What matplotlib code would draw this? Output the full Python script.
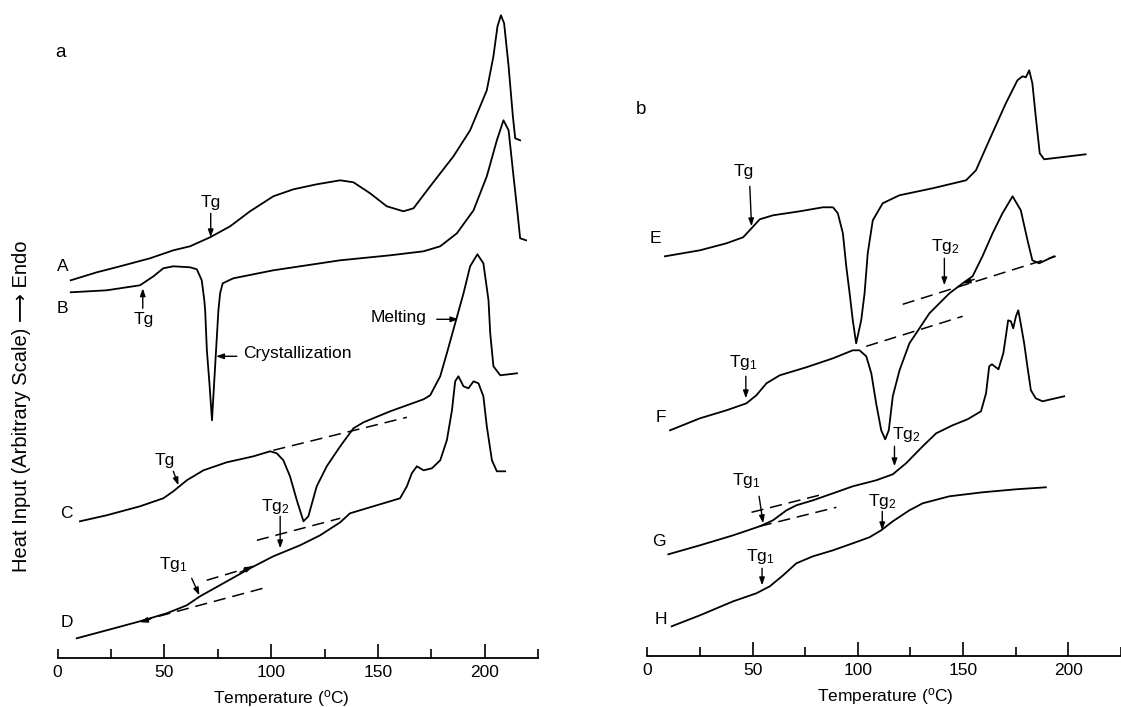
import matplotlib
matplotlib.use("Agg")
import matplotlib.pyplot as plt
import numpy as np

plt.rcParams['font.family'] = ['Liberation Sans', 'DejaVu Sans']
plt.rcParams['mathtext.fontset'] = 'custom'
plt.rcParams['mathtext.rm'] = 'Liberation Sans'
plt.rcParams['mathtext.it'] = 'Liberation Sans'

# ---- panel a: DSC traces (temperature in C, heat input in arbitrary units)
a_T = [6.2, 18.4, 29.3, 43.3, 54.2, 62.0, 71.4, 80.8, 90.1, 101.0, 110.4, 121.3, 132.3, 138.5,
       146.3, 154.1, 161.9, 166.6, 174.4, 185.3, 193.1, 200.9, 204.0, 205.9, 207.5, 209.0,
       211.1, 213.1, 214.2, 216.5]
a_H = [37.8, 38.6, 39.2, 40.0, 40.8, 41.2, 42.1, 43.2, 44.7, 46.2, 46.9, 47.4, 47.8, 47.6,
       46.5, 45.2, 44.7, 45.0, 47.2, 50.2, 52.8, 56.8, 60.2, 63.2, 64.3, 63.5,
       59.2, 54.2, 52.0, 51.8]

b_T = [6.2, 23.0, 38.6, 44.9, 49.5, 54.2, 62.0, 65.2, 67.5, 68.7, 69.1, 69.9, 71.1, 72.3,
       73.3, 74.2, 75.3, 76.1, 77.3, 82.3, 101.0, 132.3, 155.7, 171.3, 179.1, 186.9, 194.7,
       200.9, 205.6, 208.7, 211.1, 213.4, 215.3, 216.5, 219.3]
b_H = [36.6, 36.8, 37.3, 38.2, 39.0, 39.2, 39.1, 38.9, 37.8, 35.8, 34.8, 30.8, 27.5, 23.8,
       27.5, 30.8, 34.8, 36.5, 37.5, 38.0, 38.8, 39.8, 40.3, 40.7, 41.2, 42.5, 44.8,
       48.2, 51.8, 53.8, 52.8, 48.2, 44.5, 42.0, 41.8]

c_T = [10.5, 23.0, 38.6, 49.5, 54.2, 60.5, 68.3, 79.2, 91.7, 99.5, 102.6, 105.7, 108.8, 112.0,
       115.1, 117.4, 121.3, 126.0, 132.3, 138.5, 143.2, 155.7, 171.3, 174.4, 179.1, 182.2,
       186.1, 190.0, 193.1, 196.5, 199.3, 201.7, 202.5, 204.0, 207.2, 215.0]
c_H = [13.7, 14.3, 15.2, 16.0, 16.7, 17.8, 18.8, 19.6, 20.2, 20.7, 20.5, 19.8, 18.2, 15.8,
       13.7, 14.2, 17.2, 19.2, 21.2, 23.0, 23.6, 24.7, 25.9, 26.3, 28.2, 30.5,
       33.5, 36.5, 39.2, 40.4, 39.5, 35.8, 32.5, 29.2, 28.3, 28.5]

d_T = [9.0, 23.0, 38.6, 51.1, 60.5, 66.7, 77.6, 90.1, 101.0, 113.5, 122.9, 132.3, 136.9, 147.8,
       160.3, 163.5, 165.8, 168.2, 171.3, 175.2, 179.1, 182.2, 184.6, 186.1, 187.6, 190.0,
       192.3, 194.7, 197.0, 199.3, 200.9, 203.3, 205.6, 209.5]
d_H = [2.0, 2.8, 3.7, 4.5, 5.3, 6.2, 7.5, 9.0, 10.2, 11.3, 12.3, 13.6, 14.5, 15.2,
       16.0, 17.2, 18.5, 19.2, 18.8, 19.0, 19.8, 21.8, 24.8, 27.7, 28.2, 27.2,
       27.0, 27.7, 27.5, 26.2, 23.2, 19.8, 18.7, 18.7]

# ---- panel b
e_T = [8.4, 25.0, 37.6, 45.5, 49.5, 53.4, 59.7, 72.4, 83.4, 88.2, 90.5, 92.9, 94.5, 96.1, 97.6,
       99.2, 101.6, 103.2, 104.7, 107.1, 111.8, 119.7, 135.5, 151.4, 156.1, 162.4, 170.3,
       175.8, 178.2, 179.8, 181.4, 182.9, 184.5, 186.4, 188.5, 208.2]
e_H = [40.0, 40.6, 41.3, 41.9, 42.8, 43.7, 44.1, 44.5, 44.9, 44.9, 44.3, 42.3, 39.0, 36.3, 33.6,
       31.3, 33.6, 36.3, 40.3, 43.6, 45.3, 46.1, 46.8, 47.6, 48.6, 51.6, 55.3,
       57.6, 58.0, 57.9, 58.6, 57.3, 54.0, 50.3, 49.7, 50.2]

f_T = [10.8, 25.0, 37.6, 47.1, 51.8, 56.6, 62.9, 75.5, 88.2, 97.6, 100.8, 104.0, 106.4, 108.7,
       111.1, 113.0, 114.7, 116.6, 119.8, 124.5, 127.7, 134.0, 143.5, 149.8, 154.5, 159.2,
       164.0, 168.7, 173.5, 177.4, 180.6, 182.9, 186.1, 193.2]
f_H = [22.6, 23.8, 24.6, 25.3, 26.1, 27.3, 28.1, 28.9, 29.8, 30.6, 30.6, 30.0, 28.3, 25.3,
       22.6, 21.7, 22.6, 26.0, 28.6, 31.3, 32.3, 34.3, 36.3, 37.3, 38.0, 40.0,
       42.3, 44.3, 46.0, 44.6, 41.6, 39.6, 39.3, 40.0]

g_T = [10.0, 25.0, 40.8, 53.4, 59.7, 66.1, 70.8, 78.7, 88.2, 97.6, 108.7, 116.6, 122.9, 130.8,
       137.2, 145.0, 152.1, 158.5, 160.9, 162.4, 163.7, 166.8, 169.1, 170.3, 171.4, 172.7,
       173.8, 175.1, 176.2, 177.1, 179.0, 180.6, 182.2, 184.5, 187.7, 198.0]
g_H = [10.2, 11.1, 12.1, 13.0, 13.6, 14.6, 15.1, 15.6, 16.3, 17.0, 17.6, 18.2, 19.3, 21.0,
       22.3, 23.1, 23.7, 24.5, 26.3, 29.0, 29.2, 28.7, 30.3, 32.0, 33.6, 33.5,
       32.8, 34.0, 34.6, 33.6, 31.3, 28.9, 26.6, 25.8, 25.5, 26.0]

h_T = [11.6, 25.0, 40.8, 51.8, 58.2, 64.5, 70.8, 78.7, 88.2, 97.6, 105.5, 111.1, 116.6, 124.5,
       130.8, 143.5, 159.2, 175.1, 189.3]
h_H = [3.0, 4.1, 5.5, 6.3, 7.0, 8.1, 9.3, 10.0, 10.6, 11.3, 11.9, 12.6, 13.5, 14.6,
       15.3, 16.0, 16.4, 16.7, 16.9]

# baseline construction lines (T pairs, H pairs)
a_dashes = [([101.0, 163.5], [20.8, 24.1]),
            ([38.6, 97.9], [3.7, 7.1]),
            ([69.8, 91.7], [7.8, 9.2]),
            ([93.3, 132.3], [11.8, 14.0])]
b_dashes = [([121.3, 194.0], [35.2, 40.0]),
            ([104.0, 149.8], [31.0, 34.0]),
            ([49.5, 83.4], [14.4, 16.2]),
            ([53.4, 89.8], [13.0, 14.9])]

TG1 = 'Tg$_{1}$'
TG2 = 'Tg$_{2}$'

FS = 12.5
LW = 1.3


def setup_axis(ax, xmax, ymax):
    ax.set_xlim(0, xmax)
    ax.set_ylim(0, ymax)
    for s in ['left', 'right', 'top']:
        ax.spines[s].set_visible(False)
    ax.spines['bottom'].set_linewidth(1.3)
    ax.set_yticks([])
    ax.set_xticks([0, 50, 100, 150, 200])
    ax.set_xticks([25, 75, 125, 175, 225], minor=True)
    ax.tick_params(axis='x', which='major', direction='in', length=10, width=1.2,
                   labelsize=FS, pad=5)
    ax.tick_params(axis='x', which='minor', direction='in', length=6.5, width=1.2)
    ax.xaxis.get_major_ticks()[0].tick1line.set_markersize(6.5)
    ax.patch.set_visible(False)


def arrow(ax, tail, head, lw=1.0):
    ax.annotate('', xy=head, xytext=tail,
                arrowprops=dict(arrowstyle='-|>,head_length=0.45,head_width=0.16',
                                color='black', lw=lw, shrinkA=0, shrinkB=0))


fig = plt.figure(figsize=(11.21, 7.07), dpi=100)

# left panel
ax1 = fig.add_axes([57.5 / 1121, 48.7 / 707, 480.8 / 1121, 658.3 / 707])
setup_axis(ax1, 225, 65.83)
for T, H in [(a_T, a_H), (b_T, b_H), (c_T, c_H), (d_T, d_H)]:
    ax1.plot(T, H, color='black', lw=LW, solid_joinstyle='round', clip_on=False)
for T, H in a_dashes:
    ax1.plot(T, H, color='black', lw=1.1, ls=(0, (8, 4.5)))

ax1.set_xlabel('Temperature ($^{\\mathrm{o}}$C)', fontsize=FS, labelpad=4)
ax1.xaxis.set_label_coords(0.466, -0.045)

ax1.text(1.5, 60.6, 'a', fontsize=FS + 1, ha='center', va='center')
for lab, x, y in [('A', 2.4, 39.2), ('B', 2.4, 35.0), ('C', 4.0, 14.5), ('D', 4.6, 3.6)]:
    ax1.text(x, y, lab, fontsize=FS, ha='center', va='center')

ax1.text(71.7, 45.6, 'Tg', fontsize=FS, ha='center', va='center')
arrow(ax1, (71.7, 44.5), (71.7, 42.1))
ax1.text(40.5, 33.9, 'Tg', fontsize=FS, ha='center', va='center')
arrow(ax1, (39.9, 35.0), (39.9, 37.0))
ax1.text(86.7, 30.5, 'Crystallization', fontsize=FS, ha='left', va='center')
arrow(ax1, (83.9, 30.2), (74.2, 30.2))
ax1.text(172.8, 34.1, 'Melting', fontsize=FS, ha='right', va='center')
arrow(ax1, (177.5, 33.9), (187.6, 33.9))
ax1.text(50.3, 19.8, 'Tg', fontsize=FS, ha='center', va='center')
arrow(ax1, (54.2, 18.7), (56.6, 17.3))
ax1.text(54.2, 9.4, TG1, fontsize=FS, ha='center', va='center')
arrow(ax1, (62.8, 8.0), (66.4, 6.3))
ax1.text(101.8, 15.2, TG2, fontsize=FS, ha='center', va='center')
arrow(ax1, (104.2, 14.2), (104.2, 11.0))
arrow(ax1, (43.3, 3.9), (38.6, 3.6))
arrow(ax1, (85.4, 8.6), (91.5, 9.2))

# right panel
ax2 = fig.add_axes([647.3 / 1121, 50.7 / 707, 473.7 / 1121, 656.3 / 707])
setup_axis(ax2, 224.5, 65.63)
for T, H in [(e_T, e_H), (f_T, f_H), (g_T, g_H), (h_T, h_H)]:
    ax2.plot(T, H, color='black', lw=LW, solid_joinstyle='round', clip_on=False)
for T, H in b_dashes:
    ax2.plot(T, H, color='black', lw=1.1, ls=(0, (8, 4.5)))

ax2.set_xlabel('Temperature ($^{\\mathrm{o}}$C)', fontsize=FS, labelpad=4)
ax2.xaxis.set_label_coords(0.502, -0.045)

ax2.text(-3.1, 54.7, 'b', fontsize=FS + 1, ha='center', va='center')
for lab, x, y in [('E', 3.6, 41.8), ('F', 6.5, 23.9), ('G', 5.7, 11.5), ('H', 6.4, 3.7)]:
    ax2.text(x, y, lab, fontsize=FS, ha='center', va='center')

ax2.text(46.0, 48.5, 'Tg', fontsize=FS, ha='center', va='center')
arrow(ax2, (48.7, 47.0), (49.5, 43.0))
ax2.text(45.8, 29.4, TG1, fontsize=FS, ha='center', va='center')
arrow(ax2, (46.8, 28.0), (46.8, 25.8))
ax2.text(141.4, 41.0, TG2, fontsize=FS, ha='center', va='center')
arrow(ax2, (141.1, 39.8), (141.1, 37.1))
arrow(ax2, (155.3, 37.7), (149.8, 37.3))
ax2.text(47.0, 17.6, TG1, fontsize=FS, ha='center', va='center')
arrow(ax2, (53.1, 16.0), (55.0, 13.3))
ax2.text(123.2, 22.2, TG2, fontsize=FS, ha='center', va='center')
arrow(ax2, (117.4, 21.0), (117.4, 19.0))
ax2.text(53.7, 10.0, TG1, fontsize=FS, ha='center', va='center')
arrow(ax2, (54.5, 8.8), (54.5, 7.1))
ax2.text(111.7, 15.5, TG2, fontsize=FS, ha='center', va='center')
arrow(ax2, (111.6, 14.5), (111.6, 12.6))

fig.text(22 / 1121, 1 - 406 / 707, 'Heat Input (Arbitrary Scale) \u27f6 Endo',
         rotation=90, fontsize=14.5, ha='center', va='center')

fig.savefig('out.png', dpi=100)
